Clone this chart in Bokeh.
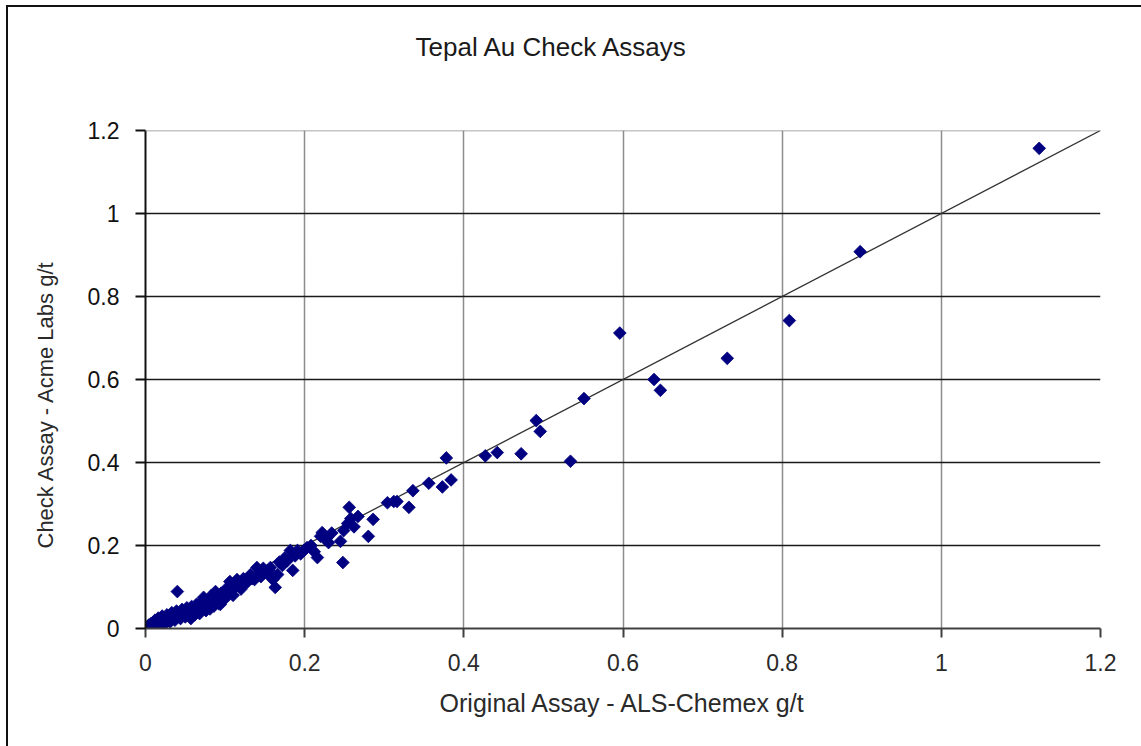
from bokeh.plotting import figure
from bokeh.models import Range1d, FixedTicker, Span, Title
from bokeh.embed import file_html
from bokeh.resources import INLINE
import math

# ---- data ----
original_assay = [
    0.002, 0.004, 0.005, 0.007, 0.008, 0.010, 0.011, 0.012, 0.013, 0.015,
    0.016, 0.018, 0.019, 0.021, 0.022, 0.024, 0.025, 0.027, 0.028, 0.030,
    0.031, 0.033, 0.034, 0.036, 0.037, 0.039, 0.040, 0.041, 0.043, 0.044,
    0.046, 0.047, 0.049, 0.050, 0.052, 0.053, 0.055, 0.057, 0.058, 0.059,
    0.061, 0.062, 0.064, 0.065, 0.067, 0.068, 0.070, 0.071, 0.073, 0.074,
    0.076, 0.078, 0.079, 0.081, 0.083, 0.084, 0.086, 0.088, 0.090, 0.092,
    0.094, 0.095, 0.097, 0.099, 0.101, 0.103, 0.106, 0.108, 0.110, 0.113,
    0.115, 0.117, 0.120, 0.123, 0.125, 0.128, 0.132, 0.134, 0.137, 0.140,
    0.142, 0.145, 0.148, 0.150, 0.153, 0.155, 0.157, 0.160, 0.163, 0.166,
    0.168, 0.172, 0.175, 0.178, 0.182, 0.185, 0.188, 0.191, 0.195, 0.199,
    0.203, 0.208, 0.212, 0.216, 0.220, 0.222, 0.226, 0.228, 0.230, 0.234,
    0.245, 0.248, 0.249, 0.254, 0.256, 0.258, 0.262, 0.267, 0.280, 0.286,
    0.304, 0.312, 0.316, 0.331, 0.336, 0.356, 0.373, 0.378, 0.384, 0.427,
    0.442, 0.472, 0.491, 0.496, 0.534, 0.551, 0.596, 0.639, 0.647, 0.731,
    0.809, 0.898, 1.123,
]
check_assay = [
    0.003, 0.008, 0.002, 0.012, 0.005, 0.015, 0.007, 0.020, 0.010, 0.013,
    0.025, 0.008, 0.018, 0.030, 0.014, 0.022, 0.012, 0.033, 0.020, 0.027,
    0.016, 0.038, 0.025, 0.031, 0.020, 0.042, 0.089, 0.030, 0.036, 0.024,
    0.046, 0.033, 0.040, 0.028, 0.050, 0.037, 0.044, 0.024, 0.053, 0.041,
    0.048, 0.033, 0.058, 0.045, 0.052, 0.036, 0.065, 0.050, 0.075, 0.056,
    0.043, 0.068, 0.058, 0.047, 0.080, 0.064, 0.054, 0.089, 0.072, 0.060,
    0.058, 0.085, 0.077, 0.070, 0.095, 0.083, 0.113, 0.090, 0.080, 0.100,
    0.118, 0.104, 0.095, 0.120, 0.110, 0.112, 0.130, 0.120, 0.118, 0.147,
    0.128, 0.125, 0.145, 0.135, 0.133, 0.140, 0.147, 0.118, 0.099, 0.130,
    0.160, 0.152, 0.170, 0.163, 0.188, 0.140, 0.175, 0.188, 0.180, 0.188,
    0.195, 0.200, 0.185, 0.171, 0.222, 0.231, 0.215, 0.219, 0.207, 0.230,
    0.210, 0.159, 0.236, 0.253, 0.292, 0.265, 0.245, 0.270, 0.222, 0.263,
    0.303, 0.306, 0.306, 0.292, 0.332, 0.350, 0.341, 0.411, 0.358, 0.416,
    0.424, 0.421, 0.501, 0.475, 0.403, 0.554, 0.712, 0.600, 0.574, 0.651,
    0.742, 0.908, 1.157,
]
# 1:1 reference line
ref_x = [0.0, 1.2]
ref_y = [0.0, 1.2]

tick_values = [0, 0.2, 0.4, 0.6, 0.8, 1, 1.2]
tick_labels = ["0", "0.2", "0.4", "0.6", "0.8", "1", "1.2"]

title_text = "Tepal Au Check Assays"
x_title = "Original Assay - ALS-Chemex g/t"
y_title = "Check Assay - Acme Labs g/t"

FONT = "Liberation Sans"

W, H = 1141, 746
p = figure(
    width=W, height=H,
    x_range=Range1d(0, 1.2), y_range=Range1d(0, 1.2),
    output_backend="svg", toolbar_location=None,
    min_border_left=145, min_border_right=W - 1100,
    min_border_top=130, min_border_bottom=H - 628,
    background_fill_color="white", border_fill_color=None,
)
p.outline_line_color = None
# outer frame of the chart picture: top and left edge lines drawn as CSS background
p.styles = {
    "background-color": "white",
    "background-image": "linear-gradient(#111111, #111111), linear-gradient(#111111, #111111)",
    "background-size": "2px 100%, 100% 2px",
    "background-position": "6px 5px, 6px 5px",
    "background-repeat": "no-repeat",
}

# spacer panel between the frame and the title
p.add_layout(Title(text=" ", text_font_size="1px", standoff=66), "above")

# main title (outermost panel above the frame)
p.title.text = title_text
p.title.align = "left"
p.title.offset = 270
p.title.standoff = 0
p.title.text_font = FONT
p.title.text_font_size = "26px"
p.title.text_font_style = "normal"
p.title.text_color = "#1a1a1a"

overrides = {v: s for v, s in zip(tick_values, tick_labels)}

# x axis
p.xaxis.ticker = FixedTicker(ticks=tick_values)
p.xaxis.major_label_overrides = overrides
p.xaxis.axis_line_color = "#404040"
p.xaxis.axis_line_width = 2
p.xaxis.major_tick_line_color = "#404040"
p.xaxis.major_tick_line_width = 2
p.xaxis.major_tick_out = 9
p.xaxis.major_tick_in = 0
p.xaxis.minor_tick_line_color = None
p.xaxis.major_label_standoff = 16
p.xaxis.major_label_text_font = FONT
p.xaxis.major_label_text_font_size = "23px"
p.xaxis.major_label_text_color = "#2a2a2a"
p.xaxis.axis_label = x_title
p.xaxis.axis_label_text_font = FONT
p.xaxis.axis_label_text_font_size = "25px"
p.xaxis.axis_label_text_font_style = "normal"
p.xaxis.axis_label_text_color = "#2a2a2a"
p.xaxis.axis_label_standoff = 15

# y axis
p.yaxis.ticker = FixedTicker(ticks=tick_values)
p.yaxis.major_label_overrides = overrides
p.yaxis.axis_line_color = "#111111"
p.yaxis.axis_line_width = 2
p.yaxis.major_tick_line_color = "#111111"
p.yaxis.major_tick_line_width = 2
p.yaxis.major_tick_out = 10
p.yaxis.major_tick_in = 0
p.yaxis.minor_tick_line_color = None
p.yaxis.major_label_standoff = 16
p.yaxis.major_label_text_font = FONT
p.yaxis.major_label_text_font_size = "23px"
p.yaxis.major_label_text_color = "#111111"

# y title placed on the left side, shifted down like the reference
p.add_layout(Title(text=y_title, align="left", offset=80, standoff=54,
                   text_font=FONT, text_font_size="22px", text_font_style="normal",
                   text_color="#2a2a2a"), "left")

# grids
p.xgrid.ticker = FixedTicker(ticks=[0.2, 0.4, 0.6, 0.8, 1])
p.xgrid.grid_line_color = "#8c8c8c"
p.xgrid.grid_line_width = 1.5
p.ygrid.ticker = FixedTicker(ticks=[0.2, 0.4, 0.6, 0.8, 1])
p.ygrid.grid_line_color = "#1a1a1a"
p.ygrid.grid_line_width = 1.6
p.add_layout(Span(location=1.2, dimension="width", line_color="#8c8c8c", line_width=1.5))

# 1:1 line and points
p.line(ref_x, ref_y, line_color="#333333", line_width=1.3)
p.scatter(original_assay, check_assay, marker="square", angle=math.pi / 4,
          size=9, fill_color="#000080", line_color="#000080", line_width=0.8)

open("out.html", "w").write(file_html(p, INLINE))
